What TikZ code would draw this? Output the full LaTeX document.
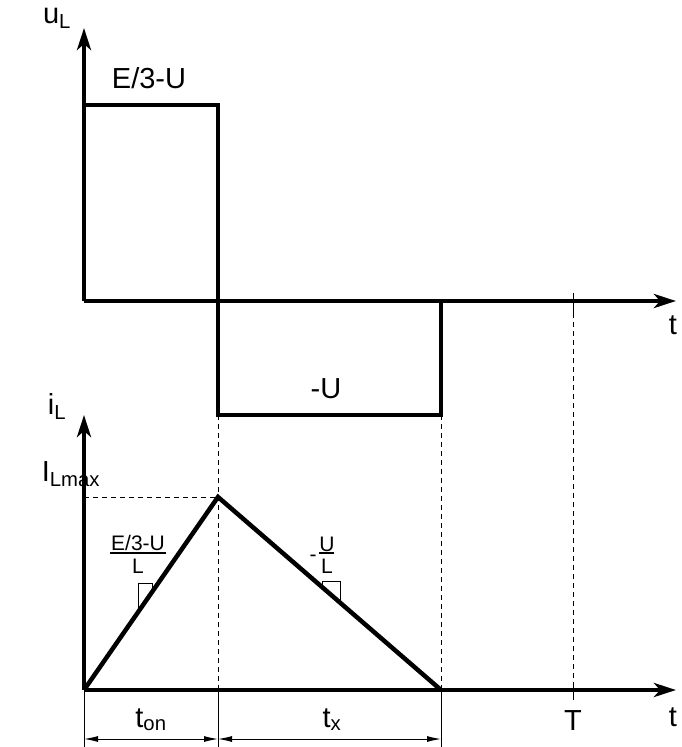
\documentclass[tikz,border=0pt]{standalone}
\usepackage{fontspec}
\setmainfont{Liberation Sans}
\usetikzlibrary{arrows.meta}
\begin{document}
\begin{tikzpicture}[x=1pt,y=-1pt,
  wave/.style={line width=4.5pt,line join=miter,line cap=rect},
  axis/.style={line width=4.5pt,-{Stealth[length=22pt,width=14pt,inset=6pt]}},
  dashln/.style={line width=1pt,dash pattern=on 5pt off 4pt},
  thinln/.style={line width=1pt},
  dimln/.style={line width=1pt,{Latex[length=14pt,width=6pt]}-{Latex[length=14pt,width=6pt]}},
  lbl/.style={font=\fontsize{29}{34}\selectfont,inner sep=0pt,anchor=base},
  slbl/.style={font=\fontsize{21}{25}\selectfont,inner sep=0pt,anchor=base}]
\useasboundingbox (0,0) rectangle (681,747);
% coordinates
\coordinate (o1) at (84,301);
\coordinate (y1) at (84,28);
\coordinate (x1) at (676,301);
\coordinate (o2) at (84,690);
\coordinate (y2) at (84,415);
\coordinate (x2) at (676,690);
\coordinate (p1) at (84,105);
\coordinate (p2) at (218,105);
\coordinate (p3) at (218,415);
\coordinate (p4) at (441,415);
\coordinate (p5) at (441,301);
\coordinate (pk) at (218,497);
\coordinate (q0) at (84,497);
\coordinate (e2) at (441,690);
\coordinate (m2) at (218,690);
\coordinate (Ta) at (573,293);
\coordinate (Tb) at (573,313);
\coordinate (Tc) at (573,683);
\coordinate (Td) at (573,700);
\coordinate (b0) at (84,747);
\coordinate (b1) at (218,747);
\coordinate (b2) at (441,747);
\coordinate (d0) at (84,739);
\coordinate (d1) at (218,739);
\coordinate (d2) at (441,739);
% dashed guides
\draw[dashln] (p3) -- (m2);
\draw[dashln] (p4) -- (e2);
\draw[dashln] (Tb) -- (Tc);
\draw[dashln] (q0) -- (pk);
% ticks at T
\draw[thinln] (Ta) -- (Tb);
\draw[thinln] (Tc) -- (Td);
% extension and dimension lines
\draw[thinln] (o2) -- (b0);
\draw[thinln] (m2) -- (b1);
\draw[thinln] (e2) -- (b2);
\draw[dimln] (d0) -- (d1);
\draw[dimln] (d1) -- (d2);
% axes
\draw[axis] (o1) -- (y1);
\draw[axis] (o1) -- (x1);
\draw[axis] (o2) -- (y2);
\draw[axis] (o2) -- (x2);
% waveforms
\draw[wave] (p1) -- (p2) -- (p3) -- (p4) -- (p5);
\draw[line width=4.5pt,line join=miter] (o2) -- (pk) -- (e2);
% slope markers
\coordinate (s1a) at (138,612);
\coordinate (s1b) at (138,583);
\coordinate (s1c) at (152,583);
\coordinate (s1d) at (152,593);
\draw[thinln] (s1a) -- (s1b) -- (s1c) -- (s1d);
\coordinate (s2a) at (322,587);
\coordinate (s2b) at (322,581);
\coordinate (s2c) at (340,581);
\coordinate (s2d) at (340,603);
\draw[thinln] (s2a) -- (s2b) -- (s2c) -- (s2d);
% fraction bars
\coordinate (f1a) at (110,553);
\coordinate (f1b) at (166,553);
\draw[line width=1.3pt] (f1a) -- (f1b);
\coordinate (f2a) at (319,553);
\coordinate (f2b) at (334,553);
\draw[line width=1.3pt] (f2a) -- (f2b);
% labels
\node[lbl] (uL) at (57,23) {u\textsubscript{L}};
\node[lbl] (iL) at (57,414) {i\textsubscript{L}};
\node[lbl] (ILmax) at (71,481) {I\textsubscript{Lmax}};
\node[lbl] (Eu) at (149,88) {E/3-U};
\node[lbl] (mU) at (326,398) {-U};
\node[lbl] (t1) at (673,334) {t};
\node[lbl] (t2) at (673,726) {t};
\node[lbl] (T) at (573,730) {T};
\node[lbl] (ton) at (151,727) {t\textsubscript{on}};
\node[lbl] (tx) at (332,727) {t\textsubscript{x}};
\node[slbl] (fn1) at (138,550) {E/3-U};
\node[slbl] (fd1) at (138,573) {L};
\node[slbl] (fn2) at (327,551) {U};
\node[slbl] (fd2) at (327,573) {L};
\node[slbl] (fm2) at (313,561) {-};
\end{tikzpicture}
\end{document}
